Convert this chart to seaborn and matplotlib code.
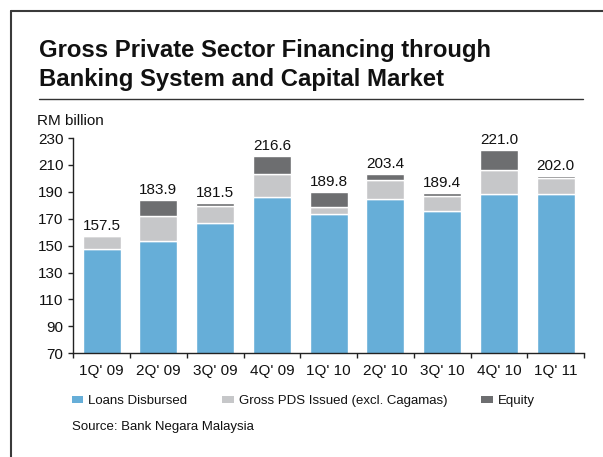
import numpy as np
import matplotlib
matplotlib.use("Agg")
import matplotlib.pyplot as plt
from matplotlib.patches import Patch
from matplotlib.lines import Line2D
import seaborn as sns

# Quarterly gross private sector financing, RM billion
quarters = ["1Q' 09", "2Q' 09", "3Q' 09", "4Q' 09", "1Q' 10",
            "2Q' 10", "3Q' 10", "4Q' 10", "1Q' 11"]
loans = [147.6, 153.6, 167.0, 186.3, 173.6, 184.8, 175.9, 188.5, 188.5]
pds = [9.2, 18.6, 12.6, 17.3, 5.3, 14.1, 11.1, 17.9, 11.9]
totals = [157.5, 183.9, 181.5, 216.6, 189.8, 203.4, 189.4, 221.0, 202.0]
# equity makes up the rest of each quarter's total
equity = [t - l - p for t, l, p in zip(totals, loans, pds)]

series_names = ["Loans Disbursed", "Gross PDS Issued (excl. Cagamas)", "Equity"]
colors = ["#66aed8", "#c6c7c9", "#6d6e70"]
yticks = list(range(70, 231, 20))

sns.set_style("white")
plt.rcParams["font.family"] = ["Liberation Sans", "DejaVu Sans"]

W, H = 603, 457
fig = plt.figure(figsize=(W / 100, H / 100), dpi=100)
fig.patch.set_facecolor("white")

def fx(px):
    return px / W

def fy(py):
    return 1 - py / H

ax = fig.add_axes([fx(73.3), fy(353.3), fx(584) - fx(73.3), fy(138) - fy(353.3)])

bottom_pds = list(loans)
bottom_eq = [l + p for l, p in zip(loans, pds)]
sns.barplot(x=quarters, y=loans, color=colors[0], saturation=1, width=0.67, ax=ax)
sns.barplot(x=quarters, y=pds, bottom=bottom_pds, color=colors[1], saturation=1,
            width=0.67, ax=ax)
sns.barplot(x=quarters, y=equity, bottom=bottom_eq, color=colors[2], saturation=1,
            width=0.67, ax=ax)

ax.bar_label(ax.containers[-1], labels=[f"{t:.1f}" for t in totals],
             padding=2, fontsize=11, color="#111111")

ax.set_xlim(-0.5, len(quarters) - 0.5)
ax.set_ylim(70, 230)
ax.set_yticks(yticks)
ax.set_xticks(range(len(quarters)))
ax.set_xticklabels(quarters)
ax.set_xticks(np.arange(-0.5, len(quarters), 1), minor=True)
ax.set_xlabel("")
ax.set_ylabel("")

for side in ["top", "right"]:
    ax.spines[side].set_visible(False)
for side in ["left", "bottom"]:
    ax.spines[side].set_color("#222222")
    ax.spines[side].set_linewidth(1.0)

ax.tick_params(axis="x", which="major", length=0, pad=8, labelsize=11,
               labelcolor="#111111")
ax.tick_params(axis="x", which="minor", length=3.5, width=1.0, direction="out",
               color="#222222", bottom=True)
ax.tick_params(axis="y", length=3.5, width=1.0, direction="out", left=True,
               color="#222222", pad=3.5, labelsize=11, labelcolor="#111111")
ax.grid(False)

# Title block
fig.text(fx(39.3), fy(57.3), "Gross Private Sector Financing through",
         fontsize=17.2, fontweight="bold", va="baseline", ha="left", color="#111111")
fig.text(fx(39.3), fy(86), "Banking System and Capital Market",
         fontsize=17.2, fontweight="bold", va="baseline", ha="left", color="#111111")
fig.add_artist(Line2D([fx(39), fx(582.7)], [fy(99.3), fy(99.3)],
                      color="#333333", linewidth=1.0))
fig.text(fx(37.3), fy(125), "RM billion", fontsize=11, va="baseline",
         ha="left", color="#111111")

# Outer frame (top and left edges)
fig.add_artist(Line2D([fx(11), 1.0], [fy(11), fy(11)], color="#3a3a3a", linewidth=1.5))
fig.add_artist(Line2D([fx(11), fx(11)], [fy(11), 0.0], color="#3a3a3a", linewidth=1.5))

handles = [Patch(facecolor=c, edgecolor="none") for c in colors]
fig.legend(handles, series_names, loc="center left",
           bbox_to_anchor=(fx(71.7), fy(401)), ncol=3, frameon=False,
           fontsize=9.5, handlelength=0.89, handleheight=0.48,
           handletextpad=0.38, columnspacing=2.6, borderpad=0,
           borderaxespad=0, labelcolor="#111111")

fig.text(fx(71.7), fy(430), "Source: Bank Negara Malaysia", fontsize=9.5,
         va="baseline", ha="left", color="#111111")

fig.savefig("out.png", dpi=100, facecolor="white")
